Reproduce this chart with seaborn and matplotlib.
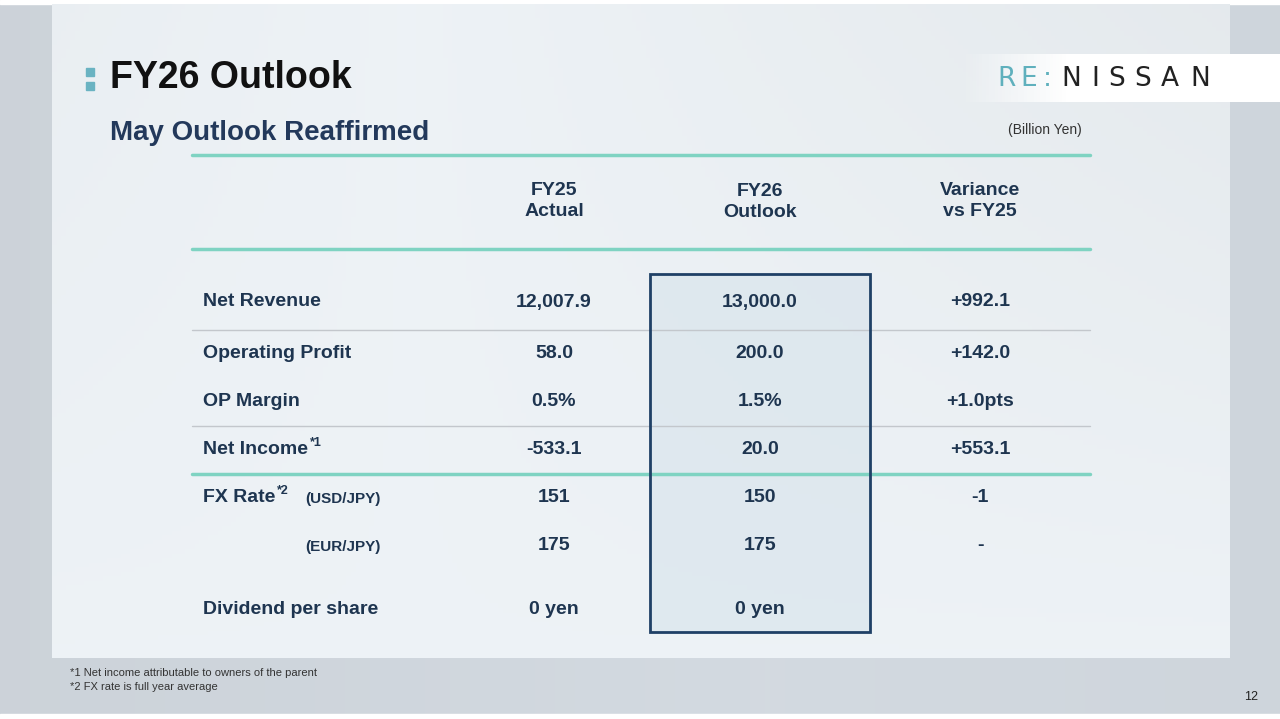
import matplotlib
matplotlib.use("Agg")
import matplotlib.pyplot as plt
import seaborn as sns
import numpy as np
from matplotlib.patches import Rectangle

sns.set_theme(style="white")
plt.rcParams['font.family'] = ['Liberation Sans', 'DejaVu Sans']

labels = ["Net Revenue", "Operating Profit", "OP Margin", "Net Income", "FX Rate", "(EUR/JPY)", "Dividend per share"]
fy25 = ["12,007.9", "58.0", "0.5%", "-533.1", "151", "175", "0 yen"]
fy26 = ["13,000.0", "200.0", "1.5%", "20.0", "150", "175", "0 yen"]
variance = ["+992.1", "+142.0", "+1.0pts", "+553.1", "-1", "-", ""]
headers = ["FY25\nActual", "FY26\nOutlook", "Variance\nvs FY25"]
row_y = [302, 354, 402, 450, 498, 546, 609]
col_x = [554, 760, 980]

W, H = 1280, 719
fig = plt.figure(figsize=(12.8, 7.19), dpi=100)
ax = fig.add_axes([0, 0, 1, 1])
ax.set_xlim(0, W); ax.set_ylim(H, 0); ax.axis("off")

xx = np.linspace(0, 1, 256)[None, :]
yy = np.linspace(0, 1, 144)[:, None]
bg = 0.90 - 0.05*np.abs(xx-0.6) + 0.0*yy
ax.imshow(np.dstack([bg*0.92, bg*0.95, bg*0.98]), extent=[0, W, H, 0], aspect="auto", zorder=0)
ax.add_patch(Rectangle((0, 0), W, 4, color="white", zorder=1))
ax.add_patch(Rectangle((0, 714), W, 5, color="white", zorder=1))
card = 0.965 - 0.05*np.abs(xx-0.3)*(1-yy) + 0.0*yy
ax.imshow(np.dstack([card*0.965, card*0.985, card*1.0]), extent=[52, 1230, 658, 4], aspect="auto", zorder=1)
band = np.linspace(0, 1, 100)[None, :]
rgba = np.dstack([np.ones((1, 100)), np.ones((1, 100)), np.ones((1, 100)), np.clip(band*3, 0, 1)])
ax.imshow(rgba, extent=[960, 1280, 102, 54], aspect="auto", zorder=2)

navy = "#1e3550"
teal = "#7fd3c2"
ax.add_patch(Rectangle((86, 68), 8, 8, color="#6ab3c2", zorder=3))
ax.add_patch(Rectangle((86, 82), 8, 8, color="#6ab3c2", zorder=3))
ax.text(110, 78, "FY26 Outlook", fontsize=27, fontweight="bold", color="#111", va="center", zorder=3)
ax.text(110, 133, "May Outlook Reaffirmed", fontsize=20, fontweight="bold", color="#23395b", va="center", zorder=3)
logo = "RE:NISSAN"
logo_cols = ["#5fb0bd"]*3 + ["#222"]*6
lx = [1007, 1029, 1047, 1071, 1095, 1117, 1143, 1170, 1200]
for ch, c, x in zip(logo, logo_cols, lx):
    ax.text(x, 79, ch, fontsize=19, color=c, ha="center", va="center", zorder=3, family="DejaVu Sans")
ax.text(1082, 130, "(Billion Yen)", fontsize=10, color="#333", ha="right", va="center", zorder=3)

for y in (155, 249):
    ax.plot([192, 1090], [y, y], color=teal, lw=2.5, zorder=3)
ax.plot([192, 1090], [474, 474], color=teal, lw=2.5, zorder=4)
for y in (330, 426):
    ax.plot([192, 1090], [y, y], color="#c3c7cc", lw=1, zorder=3)

ax.add_patch(Rectangle((650, 274), 220, 358, facecolor="#d3e1ea", alpha=0.5, edgecolor="none", zorder=2))
ax.add_patch(Rectangle((650, 274), 220, 358, facecolor="none", edgecolor="#1f4066", lw=2, zorder=5))

hdr_y = [201, 202, 201]
for x, h, y in zip(col_x, headers, hdr_y):
    ax.text(x, y, h, fontsize=14, fontweight="bold", color=navy, ha="center", va="center", linespacing=1.3, zorder=3)

def sup(x, y, s):
    ax.text(x, y - 7, s, fontsize=9, fontweight="bold", color=navy, va="center", zorder=3)

for lab, a, b, c, y in zip(labels, fy25, fy26, variance, row_y):
    if lab == "Net Income":
        ax.text(203, y, lab, fontsize=14, fontweight="bold", color=navy, va="center", zorder=3)
        sup(310, y, "*1")
    elif lab == "FX Rate":
        ax.text(203, y, lab, fontsize=14, fontweight="bold", color=navy, va="center", zorder=3)
        sup(277, y, "*2")
        ax.text(305, y + 1, "(USD/JPY)", fontsize=11, fontweight="bold", color=navy, va="center", zorder=3)
    elif lab == "(EUR/JPY)":
        ax.text(305, y + 1, lab, fontsize=11, fontweight="bold", color=navy, va="center", zorder=3)
    else:
        ax.text(203, y, lab, fontsize=14, fontweight="bold", color=navy, va="center", zorder=3)
    for x, v in zip(col_x, (a, b, c)):
        ax.text(x, y, v, fontsize=14, fontweight="bold", color=navy, ha="center", va="center", zorder=6)

ax.text(70, 673, "*1 Net income attributable to owners of the parent", fontsize=8, color="#333", va="center", zorder=3)
ax.text(70, 687, "*2 FX rate is full year average", fontsize=8, color="#333", va="center", zorder=3)
ax.text(1258, 697, "12", fontsize=9, color="#222", ha="right", va="center", zorder=3)

fig.savefig("out.png", dpi=100)
